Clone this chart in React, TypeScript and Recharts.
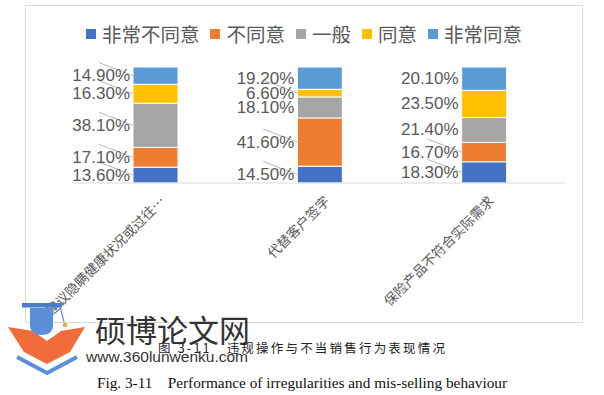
import { Bar, BarChart, LabelList, XAxis, YAxis } from "recharts";

// 100% stacked shares per behaviour
const categories = ["建议隐瞒健康状况或过往…", "代替客户签字", "保险产品不符合实际需求"];
const stronglyDisagree = [13.6, 14.5, 18.3];
const disagree = [17.1, 41.6, 16.7];
const neutral = [38.1, 18.1, 21.4];
const agree = [16.3, 6.6, 23.5];
const stronglyAgree = [14.9, 19.2, 20.1];

const seriesNames = ["非常不同意", "不同意", "一般", "同意", "非常同意"];
const seriesKeys = ["s1", "s2", "s3", "s4", "s5"];
const seriesValues = [stronglyDisagree, disagree, neutral, agree, stronglyAgree];
const colors = ["#4472C4", "#ED7D31", "#A5A5A5", "#FFC000", "#5B9BD5"];

// which callouts got a leader line in the original (per series, per category)
const leaders = [
  [true, true, true],
  [true, true, true],
  [true, false, false],
  [true, true, false],
  [true, false, false],
];

const rows = categories.map((name, i) => {
  const row: Record<string, string | number> = { name };
  seriesKeys.forEach((k, s) => (row[k] = seriesValues[s][i]));
  return row;
});

const labelFont = "'Liberation Sans', 'Noto Sans CJK SC', sans-serif";

function makeCallout(seriesIndex: number) {
  return (props: any) => {
    const { x, y, height, value, index } = props;
    const cy = Number(y) + Number(height) / 2;
    const bx = Number(x);
    return (
      <g>
        {leaders[seriesIndex][index] && (
          <line x1={bx - 34} y1={cy - 13} x2={bx} y2={cy} stroke="#a6a6a6" strokeWidth={0.8} />
        )}
        <text
          x={bx - 3}
          y={cy}
          textAnchor="end"
          dominantBaseline="central"
          fill="#595959"
          fontSize={17}
          fontFamily={labelFont}
        >
          {Number(value).toFixed(2)}%
        </text>
      </g>
    );
  };
}

function CategoryTick(props: any) {
  const { x, y, payload } = props;
  const tx = x + 11;
  const ty = y + 11;
  return (
    <text
      x={tx}
      y={ty}
      transform={`rotate(-45 ${tx} ${ty})`}
      textAnchor="end"
      fill="#595959"
      fontSize={13.5}
      fontFamily="'Noto Sans CJK SC', sans-serif"
    >
      {payload.value}
    </text>
  );
}

function Logo() {
  return (
    <svg width={90} height={82} style={{ position: "absolute", left: 0, top: 298 }}>
      <g transform="translate(0,-298)">
        <polygon points="8,327 33,331 47,341 61,331 85,327 70,352 47,364 24,352" fill="#F26B3A" />
        <polyline points="17,357 47,373 77,357" fill="none" stroke="#5B8FD9" strokeWidth={4} />
        <path d="M30,308 L53,308 L53,325 Q53,335 41.5,335 Q30,335 30,325 Z" fill="#5B8FD9" />
        <rect x={22} y={303} width={40} height={4.5} fill="#4A7CC9" />
        <line x1={60} y1={306} x2={64} y2={322} stroke="#5B8FD9" strokeWidth={1.2} />
        <circle cx={65} cy={325} r={2.2} fill="#F5A623" />
      </g>
    </svg>
  );
}

export default function App() {
  return (
    <div
      style={{
        position: "absolute",
        left: 0,
        top: 0,
        width: 604,
        height: 395,
        background: "#fff",
        overflow: "hidden",
        fontFamily: labelFont,
      }}
    >
      <div
        style={{
          position: "absolute",
          left: 25,
          top: 5,
          width: 556,
          height: 316,
          border: "1px solid #d9d9d9",
        }}
      >
        <div
          style={{
            position: "absolute",
            top: 16,
            left: 0,
            width: 556,
            display: "flex",
            justifyContent: "center",
            gap: 11,
            fontSize: 19.5,
            color: "#595959",
            fontFamily: "'Noto Sans CJK SC', sans-serif",
            lineHeight: "24px",
          }}
        >
          {seriesNames.map((n, i) => (
            <div key={n} style={{ display: "flex", alignItems: "center", gap: 6 }}>
              <span style={{ display: "inline-block", width: 10, height: 10, background: colors[i] }} />
              <span>{n}</span>
            </div>
          ))}
        </div>
        <BarChart
          width={556}
          height={316}
          data={rows}
          margin={{ top: 61, right: 16, left: 47, bottom: 0 }}
          barSize={45}
        >
          <XAxis
            dataKey="name"
            height={139}
            interval={0}
            tickLine={false}
            axisLine={{ stroke: "#d9d9d9" }}
            tick={<CategoryTick />}
          />
          <YAxis hide domain={[0, 100]} />
          {seriesKeys.map((k, s) => (
            <Bar
              key={k}
              dataKey={k}
              name={seriesNames[s]}
              stackId="a"
              fill={colors[s]}
              stroke="#fff"
              strokeWidth={1}
              isAnimationActive={false}
            >
              <LabelList dataKey={k} content={makeCallout(s)} />
            </Bar>
          ))}
        </BarChart>
      </div>

      <Logo />
      <div
        style={{
          position: "absolute",
          left: 95,
          top: 311,
          fontSize: 31,
          color: "#333",
          fontFamily: "'Noto Sans CJK SC', sans-serif",
          lineHeight: "36px",
        }}
      >
        硕博论文网
      </div>
      <div
        style={{
          position: "absolute",
          left: 86,
          top: 347,
          fontSize: 15.5,
          color: "#333",
          fontFamily: "'Liberation Sans', sans-serif",
          lineHeight: "20px",
        }}
      >
        www.360lunwenku.com
      </div>
      <div
        style={{
          position: "absolute",
          left: 158,
          top: 339,
          fontSize: 12.5,
          color: "#222",
          letterSpacing: 2.2,
          whiteSpace: "pre",
          fontFamily: "'Noto Sans CJK SC', sans-serif",
          lineHeight: "18px",
        }}
      >
        {"图 3-11   违规操作与不当销售行为表现情况"}
      </div>
      <div
        style={{
          position: "absolute",
          left: 0,
          width: 604,
          top: 374,
          textAlign: "center",
          fontSize: 15.3,
          color: "#111",
          whiteSpace: "pre",
          fontFamily: "'Liberation Serif', serif",
          lineHeight: "18px",
        }}
      >
        {"Fig. 3-11    Performance of irregularities and mis-selling behaviour"}
      </div>
    </div>
  );
}
